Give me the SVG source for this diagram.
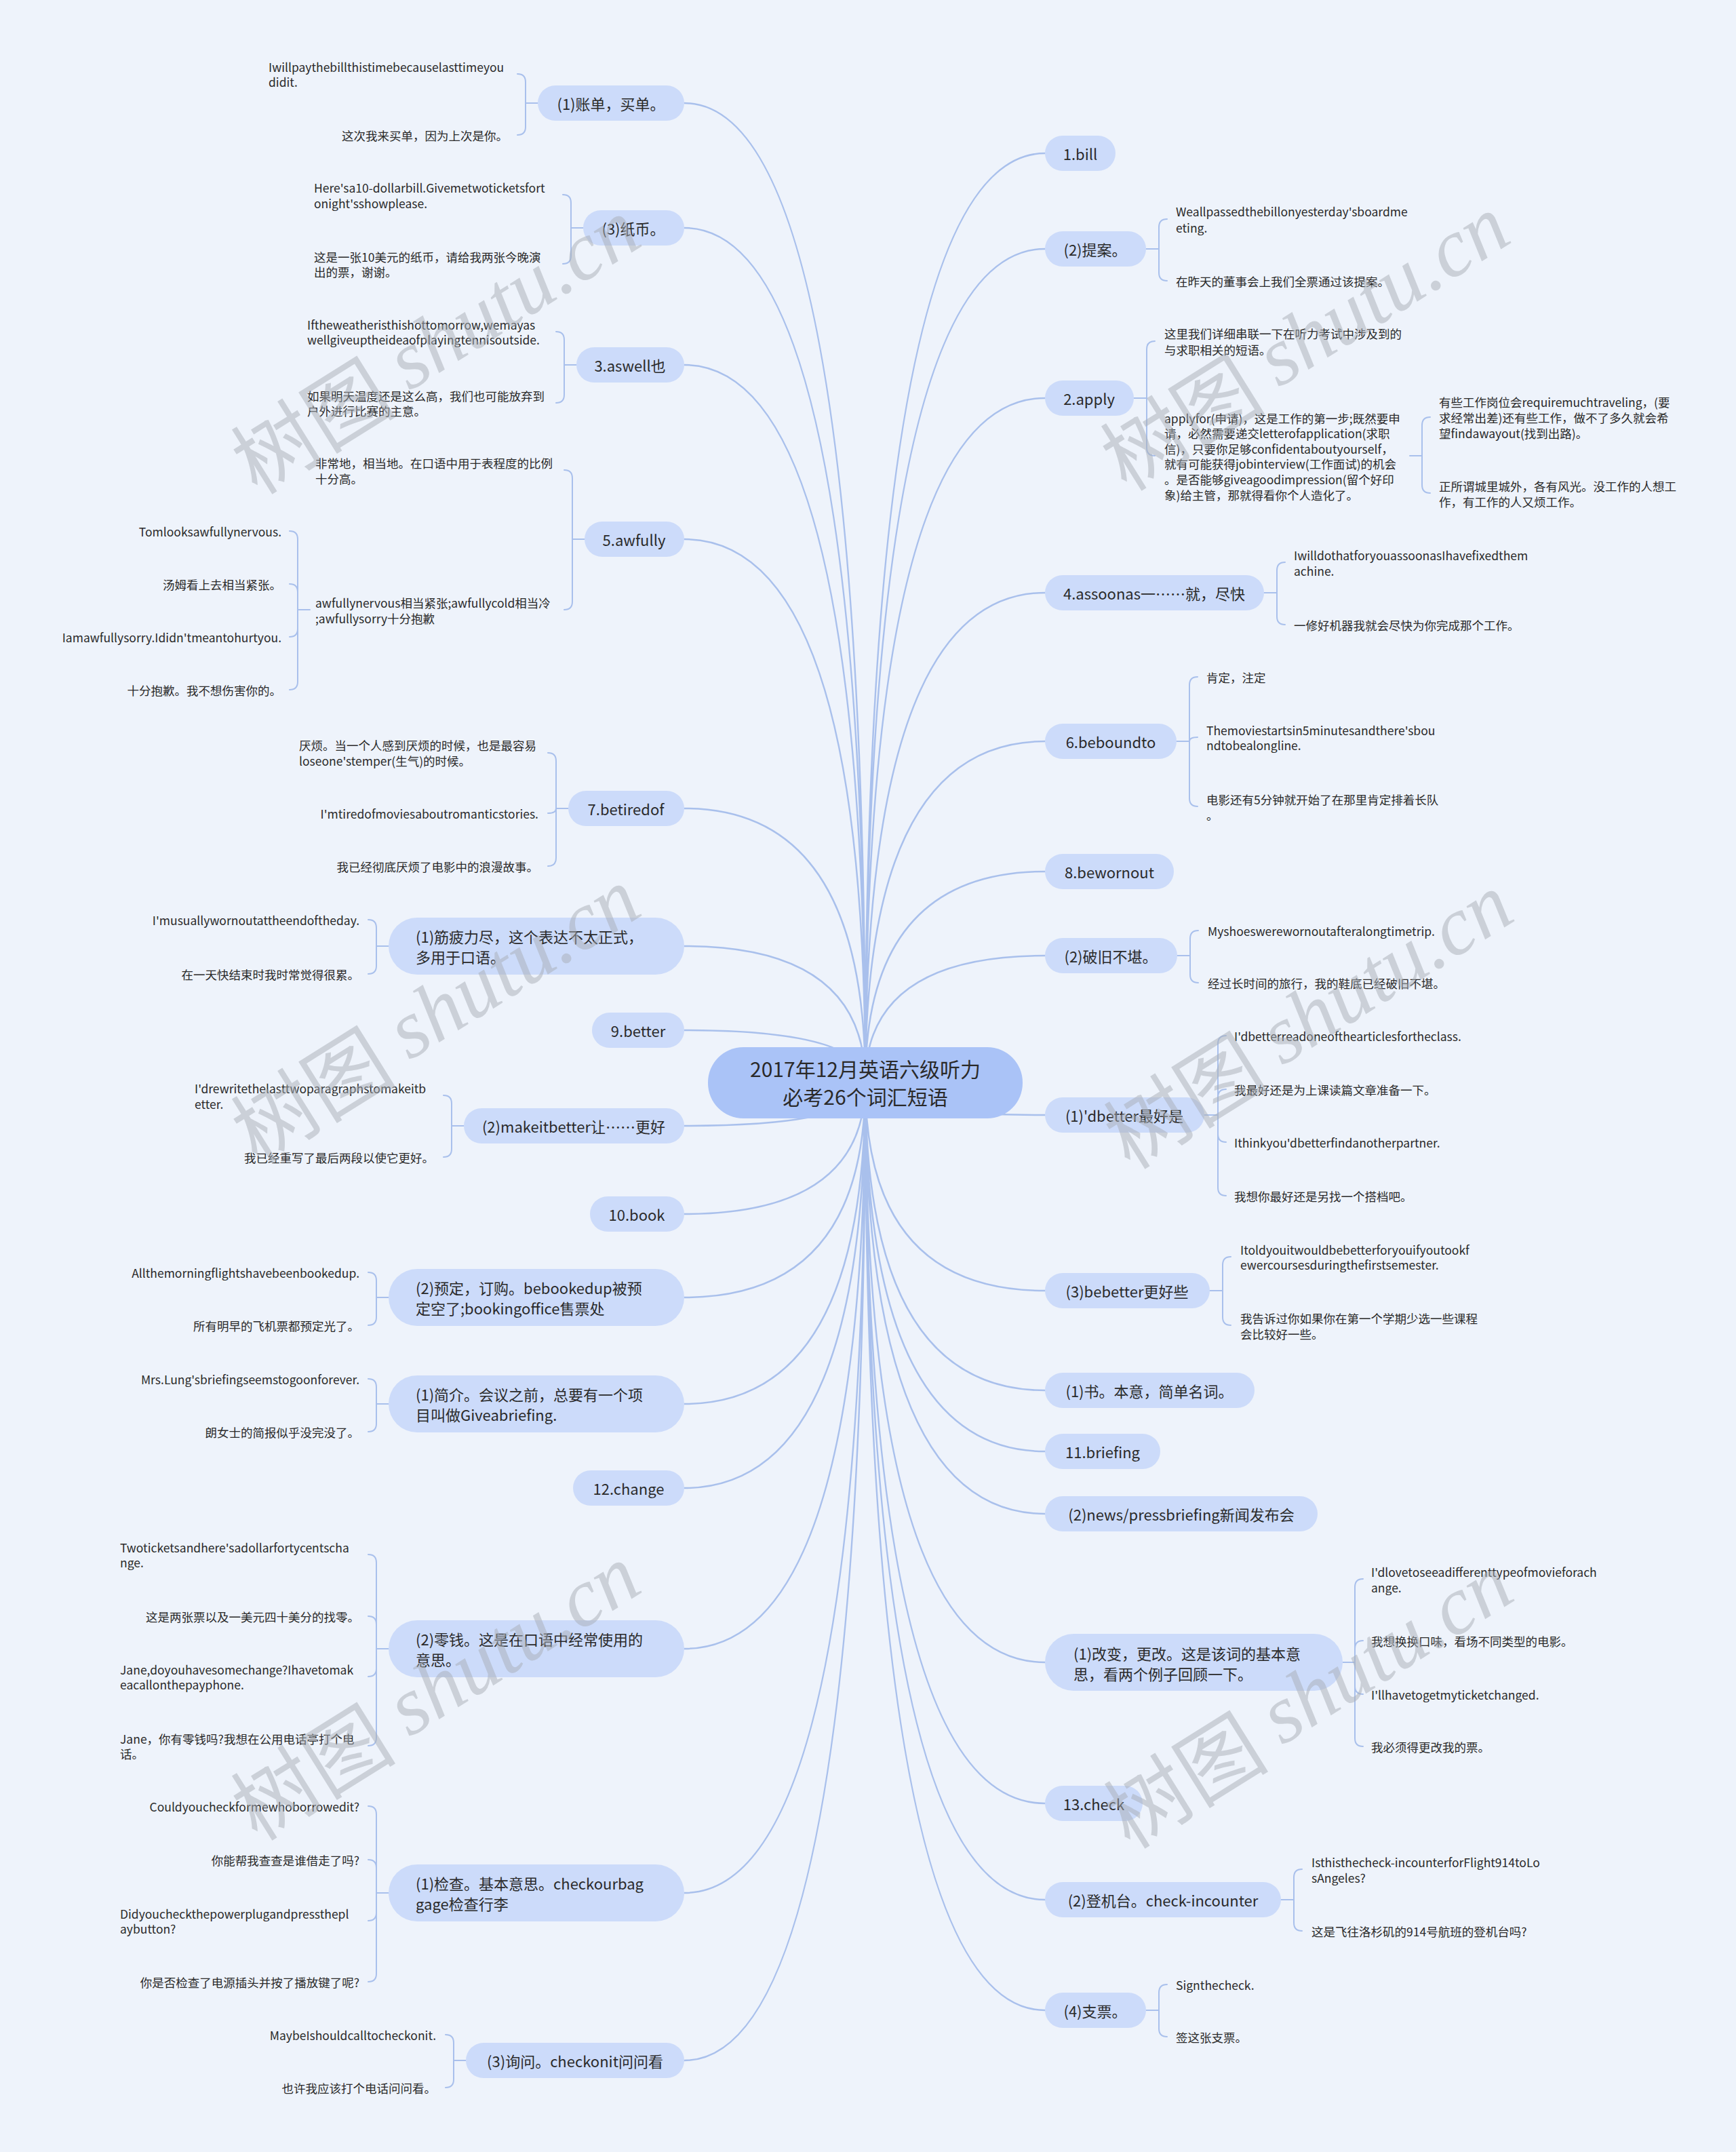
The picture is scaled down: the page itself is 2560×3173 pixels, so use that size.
<svg xmlns="http://www.w3.org/2000/svg" width="2560" height="3173" viewBox="0 0 2560 3173">
<style>
text{font-family:"Noto Sans CJK SC","Noto Sans",sans-serif;fill:#2a2a2a;dominant-baseline:central}
.n{fill:#ccdbfa}
.c{fill:#aac3f7}
.t0{font-size:30px;text-anchor:middle}
.t1{font-size:22px;text-anchor:middle}
.t2{font-size:22px}
.lf{font-size:17.5px}
.e{text-anchor:end}
.ln{fill:none;stroke:#a9c0ec;stroke-width:2.5;stroke-linecap:round}
.br{fill:none;stroke:#a9c0ec;stroke-width:2;stroke-linecap:round}
.wm{font-size:122px;fill:#a8adb6;fill-opacity:0.5;text-anchor:middle}
.wm tspan.s{font-family:"Liberation Serif",serif;font-style:italic}
</style>
<rect width="2560" height="3173" fill="#eef3fb"/>
<g id="connectors">
<path class="ln" d="M1276 1596Q1276 226 1541 226M1276 1596Q1276 367 1541 367M1276 1596Q1276 587 1541 587M1276 1596Q1276 874 1541 874M1276 1596Q1276 1093 1541 1093M1276 1596Q1276 1285 1541 1285M1276 1596Q1276 1409 1541 1409M1276 1596Q1276 1644 1541 1644M1276 1596Q1276 1903 1541 1903M1276 1596Q1276 2050 1541 2050M1276 1596Q1276 2140 1541 2140M1276 1596Q1276 2232 1541 2232M1276 1596Q1276 2451 1541 2451M1276 1596Q1276 2659 1541 2659M1276 1596Q1276 2801 1541 2801M1276 1596Q1276 2964 1541 2964"/>
<path class="ln" d="M1276 1596Q1276 152 1009 152M1276 1596Q1276 336 1009 336M1276 1596Q1276 538 1009 538M1276 1596Q1276 795 1009 795M1276 1596Q1276 1192 1009 1192M1276 1596Q1276 1395 1009 1395M1276 1596Q1276 1519 1009 1519M1276 1596Q1276 1660 1009 1660M1276 1596Q1276 1790 1009 1790M1276 1596Q1276 1913 1009 1913M1276 1596Q1276 2070 1009 2070M1276 1596Q1276 2194 1009 2194M1276 1596Q1276 2431 1009 2431M1276 1596Q1276 2791 1009 2791M1276 1596Q1276 3038 1009 3038"/>
<path class="br" d="M793 152H775M775 152V121Q775 109 763 109M775 152V187Q775 199 763 199"/>
<path class="br" d="M860 336H842M842 336V299Q842 287 830 287M842 336V377Q842 389 830 389"/>
<path class="br" d="M850 538H832M832 538V501Q832 489 820 489M832 538V582Q832 594 820 594"/>
<path class="br" d="M862 795H844M844 795V705Q844 693 832 693M844 795V887Q844 899 832 899"/>
<path class="br" d="M457 899H439M439 899V795Q439 783 427 783M439 899V873Q439 861 427 861M439 899V927Q439 939 427 939M439 899V1005Q439 1017 427 1017"/>
<path class="br" d="M838 1192H820M820 1192V1122Q820 1110 808 1110M820 1192Q820 1199 808 1199M820 1192V1265Q820 1277 808 1277"/>
<path class="br" d="M573 1395H555M555 1395V1368Q555 1356 543 1356M555 1395V1424Q555 1436 543 1436"/>
<path class="br" d="M684 1660H666M666 1660V1627Q666 1615 654 1615M666 1660V1694Q666 1706 654 1706"/>
<path class="br" d="M573 1913H555M555 1913V1888Q555 1876 543 1876M555 1913V1942Q555 1954 543 1954"/>
<path class="br" d="M573 2070H555M555 2070V2045Q555 2033 543 2033M555 2070V2099Q555 2111 543 2111"/>
<path class="br" d="M573 2431H555M555 2431V2304Q555 2292 543 2292M555 2431V2395Q555 2383 543 2383M555 2431V2460Q555 2472 543 2472M555 2431V2562Q555 2574 543 2574"/>
<path class="br" d="M573 2791H555M555 2791V2675Q555 2663 543 2663M555 2791V2754Q555 2742 543 2742M555 2791V2820Q555 2832 543 2832M555 2791V2910Q555 2922 543 2922"/>
<path class="br" d="M687 3038H669M669 3038V3012Q669 3000 657 3000M669 3038V3066Q669 3078 657 3078"/>
<path class="br" d="M1690 367H1709M1709 367V335Q1709 323 1721 323M1709 367V402Q1709 414 1721 414"/>
<path class="br" d="M1672 587H1691M1691 587V515Q1691 503 1703 503M1691 587V660Q1691 672 1703 672"/>
<path class="br" d="M2079 672H2097M2097 672V627Q2097 615 2109 615M2097 672V715Q2097 727 2109 727"/>
<path class="br" d="M1864 874H1883M1883 874V841Q1883 829 1895 829M1883 874V909Q1883 921 1895 921"/>
<path class="br" d="M1735 1093H1754M1754 1093V1010Q1754 998 1766 998M1754 1093Q1754 1087 1766 1087M1754 1093V1177Q1754 1189 1766 1189"/>
<path class="br" d="M1736 1409H1755M1755 1409V1384Q1755 1372 1767 1372M1755 1409V1437Q1755 1449 1767 1449"/>
<path class="br" d="M1776 1644H1796M1796 1644V1539Q1796 1527 1808 1527M1796 1644V1618Q1796 1606 1808 1606M1796 1644V1672Q1796 1684 1808 1684M1796 1644V1751Q1796 1763 1808 1763"/>
<path class="br" d="M1784 1903H1803M1803 1903V1865Q1803 1853 1815 1853M1803 1903V1942Q1803 1954 1815 1954"/>
<path class="br" d="M1980 2451H1998M1998 2451V2340Q1998 2328 2010 2328M1998 2451V2431Q1998 2419 2010 2419M1998 2451V2486Q1998 2498 2010 2498M1998 2451V2563Q1998 2575 2010 2575"/>
<path class="br" d="M1889 2801H1908M1908 2801V2768Q1908 2756 1920 2756M1908 2801V2835Q1908 2847 1920 2847"/>
<path class="br" d="M1690 2964H1709M1709 2964V2938Q1709 2926 1721 2926M1709 2964V2991Q1709 3003 1721 3003"/>
</g>
<g id="center"><rect class="c" x="1044" y="1544" width="464" height="105" rx="52"/><text class="t0" x="1276" y="1575">2017年12月英语六级听力</text><text class="t0" x="1276" y="1616">必考26个词汇短语</text></g>
<g id="L1"><rect class="n" x="793" y="126" width="216" height="52" rx="26"/><text class="t1" x="901" y="152">(1)账单，买单。</text>
<text class="lf" x="396" y="98">Iwillpaythebillthistimebecauselasttimeyou</text><text class="lf" x="396" y="120">didit.</text>
<text class="lf e" x="749" y="199">这次我来买单，因为上次是你。</text></g>
<g id="L2"><rect class="n" x="860" y="310" width="149" height="52" rx="26"/><text class="t1" x="934" y="336">(3)纸币。</text>
<text class="lf" x="463" y="276">Here'sa10-dollarbill.Givemetwoticketsfort</text><text class="lf" x="463" y="299">onight'sshowplease.</text>
<text class="lf" x="463" y="378">这是一张10美元的纸币，请给我两张今晚演</text><text class="lf" x="463" y="400">出的票，谢谢。</text></g>
<g id="L3"><rect class="n" x="850" y="512" width="159" height="52" rx="26"/><text class="t1" x="929" y="538">3.aswell也</text>
<text class="lf" x="453" y="478">Iftheweatheristhishottomorrow,wemayas</text><text class="lf" x="453" y="500">wellgiveuptheideaofplayingtennisoutside.</text>
<text class="lf" x="453" y="583">如果明天温度还是这么高，我们也可能放弃到</text><text class="lf" x="453" y="605">户外进行比赛的主意。</text></g>
<g id="L4"><rect class="n" x="862" y="769" width="147" height="52" rx="26"/><text class="t1" x="935" y="795">5.awfully</text>
<text class="lf" x="465" y="682">非常地，相当地。在口语中用于表程度的比例</text><text class="lf" x="465" y="705">十分高。</text>
<text class="lf" x="465" y="888">awfullynervous相当紧张;awfullycold相当冷</text><text class="lf" x="465" y="911">;awfullysorry十分抱歉</text>
<text class="lf e" x="415" y="783">Tomlooksawfullynervous.</text>
<text class="lf e" x="415" y="861">汤姆看上去相当紧张。</text>
<text class="lf e" x="415" y="939">Iamawfullysorry.Ididn'tmeantohurtyou.</text>
<text class="lf e" x="415" y="1017">十分抱歉。我不想伤害你的。</text></g>
<g id="L5"><rect class="n" x="838" y="1166" width="171" height="52" rx="26"/><text class="t1" x="923" y="1192">7.betiredof</text>
<text class="lf" x="441" y="1098">厌烦。当一个人感到厌烦的时候，也是最容易</text><text class="lf" x="441" y="1121">loseone'stemper(生气)的时候。</text>
<text class="lf e" x="794" y="1199">I'mtiredofmoviesaboutromanticstories.</text>
<text class="lf e" x="794" y="1277">我已经彻底厌烦了电影中的浪漫故事。</text></g>
<g id="L6"><rect class="n" x="573" y="1353" width="436" height="84" rx="42"/><text class="t2" x="613" y="1380">(1)筋疲力尽，这个表达不太正式，</text><text class="t2" x="613" y="1410">多用于口语。</text>
<text class="lf e" x="530" y="1356">I'musuallywornoutattheendoftheday.</text>
<text class="lf e" x="530" y="1436">在一天快结束时我时常觉得很累。</text></g>
<g id="L7"><rect class="n" x="873" y="1493" width="136" height="52" rx="26"/><text class="t1" x="941" y="1519">9.better</text></g>
<g id="L8"><rect class="n" x="684" y="1634" width="325" height="52" rx="26"/><text class="t1" x="846" y="1660">(2)makeitbetter让……更好</text>
<text class="lf" x="287" y="1604">I'drewritethelasttwoparagraphstomakeitb</text><text class="lf" x="287" y="1627">etter.</text>
<text class="lf e" x="640" y="1706">我已经重写了最后两段以使它更好。</text></g>
<g id="L9"><rect class="n" x="870" y="1764" width="139" height="52" rx="26"/><text class="t1" x="939" y="1790">10.book</text></g>
<g id="L10"><rect class="n" x="573" y="1871" width="436" height="84" rx="42"/><text class="t2" x="613" y="1898">(2)预定，订购。bebookedup被预</text><text class="t2" x="613" y="1928">定空了;bookingoffice售票处</text>
<text class="lf e" x="530" y="1876">Allthemorningflightshavebeenbookedup.</text>
<text class="lf e" x="530" y="1954">所有明早的飞机票都预定光了。</text></g>
<g id="L11"><rect class="n" x="573" y="2028" width="436" height="84" rx="42"/><text class="t2" x="613" y="2055">(1)简介。会议之前，总要有一个项</text><text class="t2" x="613" y="2085">目叫做Giveabriefing.</text>
<text class="lf e" x="530" y="2033">Mrs.Lung'sbriefingseemstogoonforever.</text>
<text class="lf e" x="530" y="2111">朗女士的简报似乎没完没了。</text></g>
<g id="L12"><rect class="n" x="845" y="2168" width="164" height="52" rx="26"/><text class="t1" x="927" y="2194">12.change</text></g>
<g id="L13"><rect class="n" x="573" y="2389" width="436" height="84" rx="42"/><text class="t2" x="613" y="2416">(2)零钱。这是在口语中经常使用的</text><text class="t2" x="613" y="2446">意思。</text>
<text class="lf" x="177" y="2281">Twoticketsandhere'sadollarfortycentscha</text><text class="lf" x="177" y="2303">nge.</text>
<text class="lf e" x="530" y="2383">这是两张票以及一美元四十美分的找零。</text>
<text class="lf" x="177" y="2461">Jane,doyouhavesomechange?Ihavetomak</text><text class="lf" x="177" y="2483">eacallonthepayphone.</text>
<text class="lf" x="177" y="2563">Jane，你有零钱吗?我想在公用电话亭打个电</text><text class="lf" x="177" y="2585">话。</text></g>
<g id="L14"><rect class="n" x="573" y="2749" width="436" height="84" rx="42"/><text class="t2" x="613" y="2776">(1)检查。基本意思。checkourbag</text><text class="t2" x="613" y="2806">gage检查行李</text>
<text class="lf e" x="530" y="2663">Couldyoucheckformewhoborrowedit?</text>
<text class="lf e" x="530" y="2742">你能帮我查查是谁借走了吗?</text>
<text class="lf" x="177" y="2821">Didyoucheckthepowerplugandpressthepl</text><text class="lf" x="177" y="2843">aybutton?</text>
<text class="lf e" x="530" y="2922">你是否检查了电源插头并按了播放键了呢?</text></g>
<g id="L15"><rect class="n" x="687" y="3012" width="322" height="52" rx="26"/><text class="t1" x="848" y="3038">(3)询问。checkonit问问看</text>
<text class="lf e" x="643" y="3000">MaybeIshouldcalltocheckonit.</text>
<text class="lf e" x="643" y="3078">也许我应该打个电话问问看。</text></g>
<g id="R1"><rect class="n" x="1541" y="200" width="104" height="52" rx="26"/><text class="t1" x="1593" y="226">1.bill</text></g>
<g id="R2"><rect class="n" x="1541" y="341" width="149" height="52" rx="26"/><text class="t1" x="1615" y="367">(2)提案。</text>
<text class="lf" x="1734" y="311">Weallpassedthebillonyesterday'sboardme</text><text class="lf" x="1734" y="335">eting.</text>
<text class="lf" x="1734" y="414">在昨天的董事会上我们全票通过该提案。</text></g>
<g id="R3"><rect class="n" x="1541" y="561" width="131" height="52" rx="26"/><text class="t1" x="1606" y="587">2.apply</text>
<text class="lf" x="1717" y="491">这里我们详细串联一下在听力考试中涉及到的</text><text class="lf" x="1717" y="515">与求职相关的短语。</text>
<text class="lf" x="1717" y="616">applyfor(申请)，这是工作的第一步;既然要申</text><text class="lf" x="1717" y="638">请，必然需要递交letterofapplication(求职</text><text class="lf" x="1717" y="661">信)，只要你足够confidentaboutyourself，</text><text class="lf" x="1717" y="683">就有可能获得jobinterview(工作面试)的机会</text><text class="lf" x="1717" y="706">。是否能够giveagoodimpression(留个好印</text><text class="lf" x="1717" y="729">象)给主管，那就得看你个人造化了。</text>
<text class="lf" x="2122" y="592">有些工作岗位会requiremuchtraveling，(要</text><text class="lf" x="2122" y="615">求经常出差)还有些工作，做不了多久就会希</text><text class="lf" x="2122" y="638">望findawayout(找到出路)。</text>
<text class="lf" x="2122" y="716">正所谓城里城外，各有风光。没工作的人想工</text><text class="lf" x="2122" y="739">作，有工作的人又烦工作。</text></g>
<g id="R4"><rect class="n" x="1541" y="848" width="323" height="52" rx="26"/><text class="t1" x="1702" y="874">4.assoonas一……就，尽快</text>
<text class="lf" x="1908" y="818">IwilldothatforyouassoonasIhavefixedthem</text><text class="lf" x="1908" y="841">achine.</text>
<text class="lf" x="1908" y="921">一修好机器我就会尽快为你完成那个工作。</text></g>
<g id="R5"><rect class="n" x="1541" y="1067" width="194" height="52" rx="26"/><text class="t1" x="1638" y="1093">6.beboundto</text>
<text class="lf" x="1779" y="998">肯定，注定</text>
<text class="lf" x="1779" y="1076">Themoviestartsin5minutesandthere'sbou</text><text class="lf" x="1779" y="1098">ndtobealongline.</text>
<text class="lf" x="1779" y="1178">电影还有5分钟就开始了在那里肯定排着长队</text><text class="lf" x="1779" y="1201">。</text></g>
<g id="R6"><rect class="n" x="1541" y="1259" width="190" height="52" rx="26"/><text class="t1" x="1636" y="1285">8.bewornout</text></g>
<g id="R7"><rect class="n" x="1541" y="1383" width="195" height="52" rx="26"/><text class="t1" x="1638" y="1409">(2)破旧不堪。</text>
<text class="lf" x="1781" y="1372">Myshoeswerewornoutafteralongtimetrip.</text>
<text class="lf" x="1781" y="1449">经过长时间的旅行，我的鞋底已经破旧不堪。</text></g>
<g id="R8"><rect class="n" x="1541" y="1618" width="235" height="52" rx="26"/><text class="t1" x="1658" y="1644">(1)'dbetter最好是</text>
<text class="lf" x="1820" y="1527">I'dbetterreadoneofthearticlesfortheclass.</text>
<text class="lf" x="1820" y="1606">我最好还是为上课读篇文章准备一下。</text>
<text class="lf" x="1820" y="1684">Ithinkyou'dbetterfindanotherpartner.</text>
<text class="lf" x="1820" y="1763">我想你最好还是另找一个搭档吧。</text></g>
<g id="R9"><rect class="n" x="1541" y="1877" width="243" height="52" rx="26"/><text class="t1" x="1662" y="1903">(3)bebetter更好些</text>
<text class="lf" x="1829" y="1842">Itoldyouitwouldbebetterforyouifyoutookf</text><text class="lf" x="1829" y="1864">ewercoursesduringthefirstsemester.</text>
<text class="lf" x="1829" y="1943">我告诉过你如果你在第一个学期少选一些课程</text><text class="lf" x="1829" y="1966">会比较好一些。</text></g>
<g id="R10"><rect class="n" x="1541" y="2024" width="309" height="52" rx="26"/><text class="t1" x="1695" y="2050">(1)书。本意，简单名词。</text></g>
<g id="R11"><rect class="n" x="1541" y="2114" width="170" height="52" rx="26"/><text class="t1" x="1626" y="2140">11.briefing</text></g>
<g id="R12"><rect class="n" x="1541" y="2206" width="402" height="52" rx="26"/><text class="t1" x="1742" y="2232">(2)news/pressbriefing新闻发布会</text></g>
<g id="R13"><rect class="n" x="1541" y="2409" width="439" height="84" rx="42"/><text class="t2" x="1583" y="2437">(1)改变，更改。这是该词的基本意</text><text class="t2" x="1583" y="2467">思，看两个例子回顾一下。</text>
<text class="lf" x="2022" y="2317">I'dlovetoseeadifferenttypeofmovieforach</text><text class="lf" x="2022" y="2340">ange.</text>
<text class="lf" x="2022" y="2419">我想换换口味，看场不同类型的电影。</text>
<text class="lf" x="2022" y="2498">I'llhavetogetmyticketchanged.</text>
<text class="lf" x="2022" y="2575">我必须得更改我的票。</text></g>
<g id="R14"><rect class="n" x="1541" y="2633" width="144" height="52" rx="26"/><text class="t1" x="1613" y="2659">13.check</text></g>
<g id="R15"><rect class="n" x="1541" y="2775" width="348" height="52" rx="26"/><text class="t1" x="1715" y="2801">(2)登机台。check-incounter</text>
<text class="lf" x="1934" y="2745">Isthisthecheck-incounterforFlight914toLo</text><text class="lf" x="1934" y="2768">sAngeles?</text>
<text class="lf" x="1934" y="2847">这是飞往洛杉矶的914号航班的登机台吗?</text></g>
<g id="R16"><rect class="n" x="1541" y="2938" width="149" height="52" rx="26"/><text class="t1" x="1615" y="2964">(4)支票。</text>
<text class="lf" x="1734" y="2926">Signthecheck.</text>
<text class="lf" x="1734" y="3003">签这张支票。</text></g>
<g id="watermarks">
<text class="wm" transform="translate(640 505) rotate(-32)">树图 <tspan class="s">shutu.cn</tspan></text>
<text class="wm" transform="translate(1922 500) rotate(-32)">树图 <tspan class="s">shutu.cn</tspan></text>
<text class="wm" transform="translate(640 1492) rotate(-32)">树图 <tspan class="s">shutu.cn</tspan></text>
<text class="wm" transform="translate(1927 1500) rotate(-32)">树图 <tspan class="s">shutu.cn</tspan></text>
<text class="wm" transform="translate(640 2490) rotate(-32)">树图 <tspan class="s">shutu.cn</tspan></text>
<text class="wm" transform="translate(1927 2502) rotate(-32)">树图 <tspan class="s">shutu.cn</tspan></text>
</g>
</svg>
